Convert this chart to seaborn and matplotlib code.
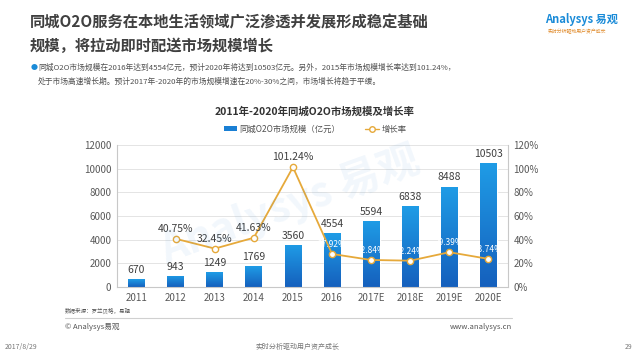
import numpy as np
import pandas as pd
import matplotlib
matplotlib.use("Agg")
import matplotlib.pyplot as plt
import seaborn as sns
from matplotlib.colors import LinearSegmentedColormap
from matplotlib.lines import Line2D
from matplotlib.patches import Patch

# data
years = ["2011", "2012", "2013", "2014", "2015", "2016", "2017E", "2018E", "2019E", "2020E"]
market_size = [670, 943, 1249, 1769, 3560, 4554, 5594, 6838, 8488, 10503]
growth_years = ["2012", "2013", "2014", "2015", "2016", "2017E", "2018E", "2019E", "2020E"]
growth_rate = [40.75, 32.45, 41.63, 101.24, 27.92, 22.84, 22.24, 29.39, 23.74]

sns.set_theme(style="white")
plt.rcParams["font.family"] = ["Noto Sans CJK SC", "DejaVu Sans"]
plt.rcParams["axes.unicode_minus"] = False

W, H = 640, 360
fig = plt.figure(figsize=(6.4, 3.6), dpi=100)
fig.patch.set_facecolor("white")


def px(x, y):
    return x / W, 1 - y / H


GOLD = "#e6a93a"
GRAY = "#595959"

ax = fig.add_axes([117 / W, 1 - 287 / H, (508 - 117) / W, (287 - 145) / H])
df = pd.DataFrame({"year": years, "size": market_size})
sns.barplot(data=df, x="year", y="size", ax=ax, color="#1a7fd4", width=0.43,
            saturation=1)

# gradient fill for the bars
cmap = LinearSegmentedColormap.from_list("bar", ["#1560bd", "#1f9ce6"])
grad = np.linspace(0, 1, 100).reshape(-1, 1)
for p in ax.patches:
    x0, y0 = p.get_x(), p.get_y()
    w, h = p.get_width(), p.get_height()
    im = ax.imshow(grad, extent=[x0, x0 + w, y0, y0 + h], origin="lower",
                   aspect="auto", cmap=cmap, zorder=2)
    im.set_clip_path(p)
    p.set_zorder(1)

ax.set_xlim(-0.5, len(years) - 0.5)
ax.set_ylim(0, 12000)
ax.set_yticks(range(0, 12001, 2000))
ax.set_xlabel("")
ax.set_ylabel("")
ax.tick_params(axis="both", labelsize=7, colors=GRAY, length=0, pad=4)
ax.yaxis.grid(True, color="#e4e4e4", linewidth=0.7)
ax.set_axisbelow(True)
ax.spines["top"].set_visible(False)
for s in ["left", "right", "bottom"]:
    ax.spines[s].set_color("#c8c8c8")
    ax.spines[s].set_linewidth(0.8)

for i, v in enumerate(market_size):
    ax.text(i, v + 350, str(v), ha="center", va="bottom", fontsize=7.5,
            color="#404040", zorder=5)

ax2 = ax.twinx()
gdf = pd.DataFrame({"pos": [years.index(y) for y in growth_years], "rate": growth_rate})
sns.lineplot(data=gdf, x="pos", y="rate", ax=ax2, color=GOLD, linewidth=1.3,
             marker="o", markersize=4.5, markerfacecolor="white",
             markeredgecolor=GOLD, markeredgewidth=1.0, zorder=4)
ax2.set_ylim(0, 120)
ax2.set_yticks(range(0, 121, 20))
ax2.set_yticklabels([f"{t}%" for t in range(0, 121, 20)])
ax2.set_xlim(-0.5, len(years) - 0.5)
ax2.set_xlabel("")
ax2.set_ylabel("")
ax2.tick_params(axis="y", labelsize=7, colors=GRAY, length=0, pad=4)
for s in ax2.spines.values():
    s.set_visible(False)

# first four labels sit above the line in dark text, the rest are white inside the bars
for k, (pos, r) in enumerate(zip(gdf["pos"], growth_rate)):
    if k < 4:
        ax2.text(pos, r + 4, f"{r:.2f}%", ha="center", va="bottom",
                 fontsize=7.5, color="#404040", zorder=5)
    else:
        ax2.text(pos, r + 4, f"{r:.2f}%", ha="center", va="bottom",
                 fontsize=6, color="white", zorder=5)

# watermark
fig.text(*px(290, 205), "Analysys 易观", fontsize=30, color="#1a7fd4",
         alpha=0.06, rotation=20, ha="center", va="center", fontweight="bold")

# titles
fig.text(*px(30, 22), "同城O2O服务在本地生活领域广泛渗透并发展形成稳定基础",
         fontsize=11, fontweight="bold", color="#404040", va="center")
fig.text(*px(30, 46), "规模，将拉动即时配送市场规模增长",
         fontsize=11, fontweight="bold", color="#404040", va="center")
fig.text(*px(545, 20), "Analysys 易观", fontsize=8, color="#1a8bd8",
         va="center", fontweight="bold")
fig.text(*px(548, 32), "实时分析驱动用户资产成长", fontsize=3.5, color="#e08a2a",
         va="center")

fig.text(*px(31, 68), "●", fontsize=5, color="#1a8bd8", va="center")
fig.text(*px(38, 68),
         "同城O2O市场规模在2016年达到4554亿元，预计2020年将达到10503亿元。另外，2015年市场规模增长率达到101.24%，",
         fontsize=5.6, color="#505050", va="center")
fig.text(*px(38, 82),
         "处于市场高速增长期。预计2017年-2020年的市场规模增速在20%-30%之间，市场增长将趋于平缓。",
         fontsize=5.6, color="#505050", va="center")

fig.text(*px(315, 112), "2011年-2020年同城O2O市场规模及增长率", fontsize=7.5,
         fontweight="bold", color="#333333", ha="center", va="center")

handles = [Patch(facecolor="#1a7fd4", edgecolor="none"),
           Line2D([0], [0], color=GOLD, marker="o", markerfacecolor="white",
                  markeredgecolor=GOLD, markersize=4, linewidth=1)]
fig.legend(handles, ["同城O2O市场规模（亿元）", "增长率"], loc="center",
           bbox_to_anchor=px(315, 129), ncol=2, frameon=False, fontsize=6,
           handlelength=1.6, handleheight=0.5, columnspacing=3,
           handletextpad=0.3, labelcolor="#505050")

# footer
fig.text(*px(65, 311), "数据来源：罗兰贝格，易观", fontsize=4, color="#555555",
         va="center")
fig.add_artist(Line2D([65 / W, 512 / W], [1 - 318 / H, 1 - 318 / H],
                      color="#d0d0d0", linewidth=0.8))
fig.text(*px(65, 327), "© Analysys易观", fontsize=5.5, color="#555555",
         va="center")
fig.text(*px(512, 327), "www.analysys.cn", fontsize=5.5, color="#555555",
         va="center", ha="right")
fig.text(*px(5, 347), "2017/8/29", fontsize=5, color="#777777", va="center")
fig.text(*px(298, 347), "实时分析驱动用户资产成长", fontsize=5, color="#777777",
         va="center", ha="center")
fig.text(*px(632, 347), "29", fontsize=5, color="#777777", va="center",
         ha="right")

fig.savefig("out.png", dpi=100)
